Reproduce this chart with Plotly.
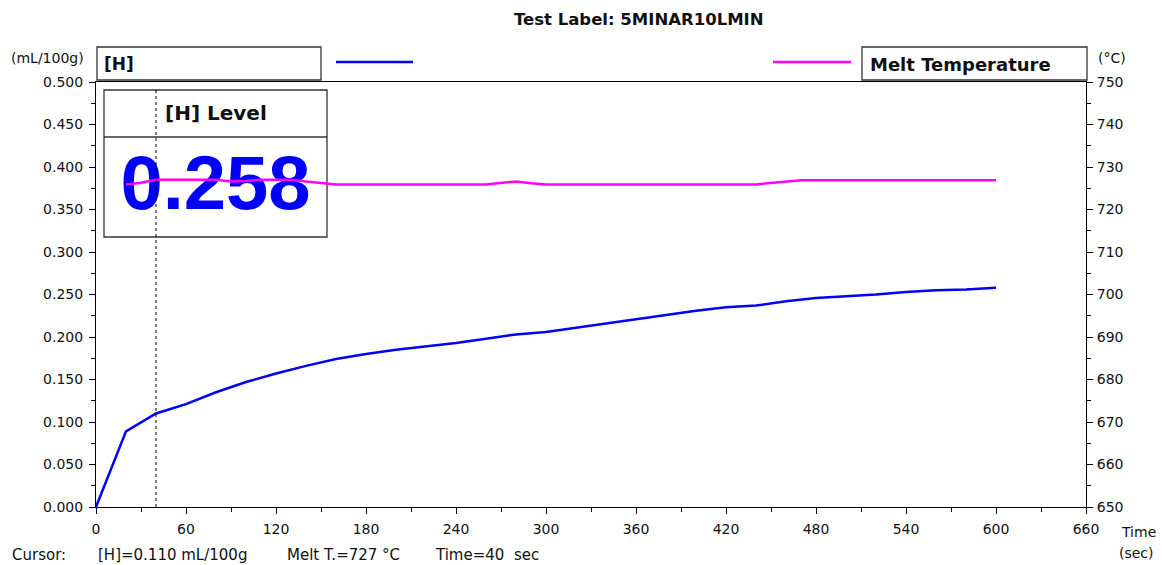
import plotly.graph_objects as go

# ---- data ----
h_time = [0, 20, 40, 60, 80, 100, 120, 140, 160, 180, 200, 220, 240, 260, 280, 300,
          320, 340, 360, 380, 400, 420, 440, 460, 480, 500, 520, 540, 560, 580, 600]
h_level = [0.000, 0.089, 0.110, 0.121, 0.135, 0.147, 0.157, 0.166, 0.174, 0.180, 0.185,
           0.189, 0.193, 0.198, 0.203, 0.206, 0.211, 0.216, 0.221, 0.226, 0.231, 0.235,
           0.237, 0.242, 0.246, 0.248, 0.250, 0.253, 0.255, 0.256, 0.258]

t_time = [20, 30, 40, 80, 90, 100, 110, 130, 140, 150, 160, 260, 270, 280, 290, 300,
          440, 450, 460, 470, 600]
t_melt = [725.9, 726.3, 727.0, 727.0, 726.6, 726.7, 727.0, 727.0, 726.6, 726.2, 725.9,
          725.9, 726.2, 726.6, 726.2, 725.9, 725.9, 726.2, 726.6, 726.9, 726.9]

x_ticks = list(range(0, 661, 60))
y_ticks = [i * 0.05 for i in range(11)]
y2_ticks = list(range(650, 751, 10))

title = "Test Label: 5MINAR10LMIN"
cursor_time = 40
cursor_text = ["Cursor:", "[H]=0.110 mL/100g", "Melt T.=727 \u00b0C", "Time=40\u00a0\u00a0sec"]
h_display = "0.258"

# ---- geometry helpers (pixel -> paper) ----
W, H = 1162, 565
L, R, T, B = 96, 1086, 82, 507


def px(x):
    return (x - L) / (R - L)


def py(y):
    return (B - y) / (B - T)


FONT = "DejaVu Sans"
BLUE = "#0000FF"
MAG = "#FF00FF"

fig = go.Figure()

fig.add_trace(go.Scatter(x=h_time, y=h_level, mode="lines",
                         line=dict(color=BLUE, width=2.5), yaxis="y", showlegend=False,
                         hoverinfo="skip"))
fig.add_trace(go.Scatter(x=t_time, y=t_melt, mode="lines",
                         line=dict(color=MAG, width=2.5, shape="linear"), yaxis="y2",
                         showlegend=False, hoverinfo="skip"))

axis_font = dict(family=FONT, size=14, color="#111")

fig.update_layout(
    width=W, height=H,
    margin=dict(l=L, r=W - R, t=T, b=H - B, pad=0),
    plot_bgcolor="white", paper_bgcolor="white",
    showlegend=False,
    xaxis=dict(range=[0, 660], tickvals=x_ticks, ticks="outside", ticklen=6, tickwidth=1,
               tickcolor="black", showline=True, linecolor="black", linewidth=1,
               mirror=True, showgrid=False, zeroline=False, tickfont=axis_font,
               ticklabelstandoff=3,
               minor=dict(dtick=30, ticks="outside", ticklen=4, tickcolor="black")),
    yaxis=dict(range=[0, 0.5], tickvals=y_ticks, tickformat=".3f", ticks="outside",
               ticklen=6, tickcolor="black", showline=True, linecolor="black",
               linewidth=1, showgrid=False, zeroline=False, tickfont=axis_font,
               ticklabelstandoff=3,
               minor=dict(dtick=0.025, ticks="outside", ticklen=4, tickcolor="black")),
    yaxis2=dict(range=[650, 750], tickvals=y2_ticks, overlaying="y", side="right",
                ticks="outside", ticklen=6, tickcolor="black", showline=True,
                linecolor="black", linewidth=1, showgrid=False, zeroline=False,
                tickfont=axis_font, ticklabelstandoff=1,
                minor=dict(dtick=5, ticks="outside", ticklen=4, tickcolor="black")),
)

shapes = []
annotations = []

# [H] Level box (below traces so magenta line crosses the digits)
shapes.append(dict(type="rect", xref="paper", yref="paper", x0=px(104), x1=px(327),
                   y0=py(237), y1=py(90), line=dict(color="#333", width=1.3),
                   fillcolor="white", layer="below"))
shapes.append(dict(type="line", xref="paper", yref="paper", x0=px(104), x1=px(327),
                   y0=py(137), y1=py(137), line=dict(color="#333", width=1.3),
                   layer="below"))
shapes.append(dict(type="rect", xref="paper", yref="paper", x0=px(104), x1=px(327),
                   y0=py(225), y1=py(125), line=dict(width=0), fillcolor="rgba(0,0,0,0)",
                   layer="below",
                   label=dict(text="<b>" + h_display + "</b>",
                              font=dict(family="Liberation Sans", size=76, color=BLUE),
                              textposition="middle center")))

# cursor dashed line
shapes.append(dict(type="line", xref="x", yref="paper", x0=cursor_time, x1=cursor_time,
                   y0=0, y1=py(90), line=dict(color="black", width=1, dash="3px,3px")))

# legend boxes
shapes.append(dict(type="rect", xref="paper", yref="paper", x0=px(97), x1=px(321),
                   y0=py(80), y1=py(47), line=dict(color="#333", width=1.3)))
shapes.append(dict(type="rect", xref="paper", yref="paper", x0=px(862), x1=px(1087),
                   y0=py(80), y1=py(47), line=dict(color="#333", width=1.3)))
shapes.append(dict(type="line", xref="paper", yref="paper", x0=px(336), x1=px(413),
                   y0=py(62), y1=py(62), line=dict(color=BLUE, width=2.5)))
shapes.append(dict(type="line", xref="paper", yref="paper", x0=px(773), x1=px(851),
                   y0=py(62), y1=py(62), line=dict(color=MAG, width=2.5)))


def ann(text, x, y, size=13, bold=False, color="#111", xanchor="left", family=FONT):
    annotations.append(dict(text=("<b>%s</b>" % text) if bold else text,
                            xref="paper", yref="paper", x=px(x), y=py(y),
                            xanchor=xanchor, yanchor="middle", showarrow=False,
                            font=dict(family=family, size=size, color=color)))


ann(title, 639, 20, size=16.5, bold=True, xanchor="center")
ann("[H]", 102, 64, size=17, bold=True)
ann("Melt Temperature", 868, 64, size=18, bold=True)
ann("(mL/100g)", 86, 58, size=14, xanchor="right")
ann("(\u00b0C)", 1096, 58, size=14)
ann("[H] Level", 216, 113, size=20, bold=True, xanchor="center")
ann("Time", 1119, 532, size=14)
ann("(sec)", 1117, 553, size=14)
ann(cursor_text[0], 10, 555, size=15)
ann(cursor_text[1], 96, 555, size=15)
ann(cursor_text[2], 285, 555, size=15)
ann(cursor_text[3], 433, 555, size=15)

fig.update_layout(shapes=shapes, annotations=annotations)
fig.write_html("out.html", config={"displayModeBar": False},
               post_script="document.body.style.margin='0';")
